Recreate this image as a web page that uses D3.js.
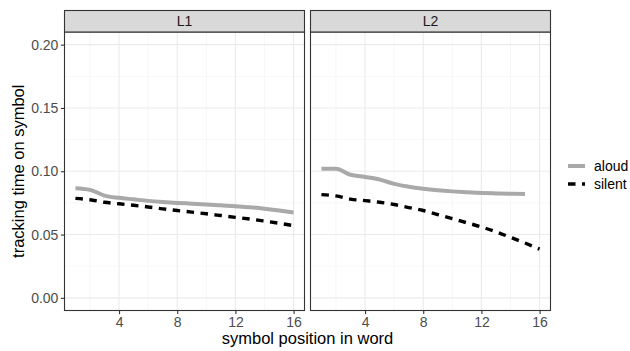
<!DOCTYPE html>
<html>
<head>
<meta charset="utf-8">
<script src="https://cdn.jsdelivr.net/npm/d3@7"></script>
<style>
  body { margin: 0; background: #fff; }
  svg { display: block; font-family: "Liberation Sans", Arial, sans-serif; }
</style>
</head>
<body>
<svg id="chart" width="630" height="351"></svg>
<script>
// data
const positions = [1, 2, 3, 4, 5, 6, 7, 8, 9, 10, 11, 12, 13, 14, 15, 16];
const panels = ['L1', 'L2'];
const conditions = ['aloud', 'silent'];

const l1Aloud = [0.0866, 0.0853, 0.0808, 0.0790, 0.0778, 0.0766, 0.0757, 0.0750, 0.0744, 0.0738, 0.0731, 0.0724, 0.0716, 0.0704, 0.0690, 0.0674];
const l1Silent = [0.0786, 0.0775, 0.0755, 0.0743, 0.0731, 0.0718, 0.0703, 0.0690, 0.0677, 0.0664, 0.0650, 0.0636, 0.0622, 0.0606, 0.0589, 0.0570];
const l2Aloud = [0.1020, 0.1020, 0.0972, 0.0955, 0.0935, 0.0900, 0.0878, 0.0862, 0.0850, 0.0841, 0.0834, 0.0829, 0.0825, 0.0822, 0.0820];
const l2Silent = [0.0815, 0.0805, 0.0780, 0.0768, 0.0755, 0.0737, 0.0713, 0.0690, 0.0658, 0.0625, 0.0593, 0.0560, 0.0522, 0.0478, 0.0433, 0.0385];

const xTicks = [4, 8, 12, 16];
const xMinor = [2, 6, 10, 14];
const yTicks = [0, 0.05, 0.10, 0.15, 0.20];
const yMinor = [0.025, 0.075, 0.125, 0.175];

const seriesData = {
    L1: { aloud: l1Aloud, silent: l1Silent },
    L2: { aloud: l2Aloud, silent: l2Silent }
};

const styles = {
    aloud: { stroke: '#a9a9a9', width: 4, dash: null },
    silent: { stroke: '#000000', width: 3.4, dash: '7.5,6.5' }
};

const svg = d3.select('#chart');

const panelLeft = [64.5, 310.5];
const panelW = 240;
const panelTop = 32;
const panelBottom = 310.5;
const stripTop = 10.5;

const y = d3.scaleLinear().domain([-0.01, 0.21]).range([panelBottom, panelTop]);

panels.forEach((name, pi) => {
    const x0 = panelLeft[pi];
    const x = d3.scaleLinear().domain([0.25, 16.75]).range([x0, x0 + panelW]);
    const g = svg.append('g');

    // grid
    g.selectAll('line.ymin').data(yMinor).enter().append('line')
        .attr('x1', x0).attr('x2', x0 + panelW)
        .attr('y1', d => y(d)).attr('y2', d => y(d))
        .attr('stroke', '#f2f2f2').attr('stroke-width', 0.6);
    g.selectAll('line.xmin').data(xMinor).enter().append('line')
        .attr('x1', d => x(d)).attr('x2', d => x(d))
        .attr('y1', panelTop).attr('y2', panelBottom)
        .attr('stroke', '#f2f2f2').attr('stroke-width', 0.6);
    g.selectAll('line.ymaj').data(yTicks).enter().append('line')
        .attr('x1', x0).attr('x2', x0 + panelW)
        .attr('y1', d => y(d)).attr('y2', d => y(d))
        .attr('stroke', '#ebebeb').attr('stroke-width', 1.1);
    g.selectAll('line.xmaj').data(xTicks).enter().append('line')
        .attr('x1', d => x(d)).attr('x2', d => x(d))
        .attr('y1', panelTop).attr('y2', panelBottom)
        .attr('stroke', '#ebebeb').attr('stroke-width', 1.1);

    // lines
    conditions.forEach(c => {
        const vals = seriesData[name][c];
        const pts = vals.map((v, i) => [positions[i], v]);
        const line = d3.line()
            .x(d => x(d[0]))
            .y(d => y(d[1]))
            .curve(d3.curveMonotoneX);
        g.append('path')
            .attr('d', line(pts))
            .attr('fill', 'none')
            .attr('stroke', styles[c].stroke)
            .attr('stroke-width', styles[c].width)
            .attr('stroke-dasharray', styles[c].dash);
    });

    // panel border
    g.append('rect')
        .attr('x', x0).attr('y', panelTop)
        .attr('width', panelW).attr('height', panelBottom - panelTop)
        .attr('fill', 'none').attr('stroke', '#333333').attr('stroke-width', 1.1);

    // strip
    g.append('rect')
        .attr('x', x0).attr('y', stripTop)
        .attr('width', panelW).attr('height', panelTop - stripTop)
        .attr('fill', '#d9d9d9').attr('stroke', '#333333').attr('stroke-width', 1.1);
    g.append('text')
        .attr('x', x0 + panelW / 2).attr('y', (stripTop + panelTop) / 2)
        .attr('dy', '0.35em')
        .attr('text-anchor', 'middle')
        .attr('font-size', 14)
        .attr('fill', '#1a1a1a')
        .text(name);

    // x axis
    const xAxis = d3.axisBottom(x).tickValues(xTicks).tickSize(3.6).tickPadding(2.5);
    const ax = g.append('g').attr('transform', `translate(0,${panelBottom})`).call(xAxis);
    ax.select('.domain').remove();
    ax.selectAll('line').attr('stroke', '#333333').attr('stroke-width', 1.1);
    ax.selectAll('text').attr('font-size', 14).attr('fill', '#4d4d4d')
        .attr('font-family', '"Liberation Sans", Arial, sans-serif');

    if (pi === 0) {
        const yAxis = d3.axisLeft(y).tickValues(yTicks).tickFormat(d3.format('.2f')).tickSize(3.6).tickPadding(2.5);
        const ay = g.append('g').attr('transform', `translate(${x0},0)`).call(yAxis);
        ay.select('.domain').remove();
        ay.selectAll('line').attr('stroke', '#333333').attr('stroke-width', 1.1);
        ay.selectAll('text').attr('font-size', 14).attr('fill', '#4d4d4d')
            .attr('font-family', '"Liberation Sans", Arial, sans-serif');
    }
});

// axis titles
svg.append('text')
    .attr('x', (panelLeft[0] + panelLeft[1] + panelW) / 2)
    .attr('y', 344)
    .attr('text-anchor', 'middle')
    .attr('font-size', 16.5)
    .attr('fill', '#000')
    .text('symbol position in word');

svg.append('text')
    .attr('transform', `translate(24,${(panelTop + panelBottom) / 2}) rotate(-90)`)
    .attr('text-anchor', 'middle')
    .attr('font-size', 16.5)
    .attr('fill', '#000')
    .text('tracking time on symbol');

// legend
const legendY = [166, 184];
const lg = svg.append('g');
conditions.forEach((c, i) => {
    lg.append('line')
        .attr('x1', 568).attr('x2', 585)
        .attr('y1', legendY[i]).attr('y2', legendY[i])
        .attr('stroke', styles[c].stroke)
        .attr('stroke-width', styles[c].width)
        .attr('stroke-dasharray', styles[c].dash);
    lg.append('text')
        .attr('x', 594).attr('y', legendY[i])
        .attr('dy', '0.35em')
        .attr('font-size', 14)
        .attr('fill', '#000')
        .text(c);
});
</script>
</body>
</html>
